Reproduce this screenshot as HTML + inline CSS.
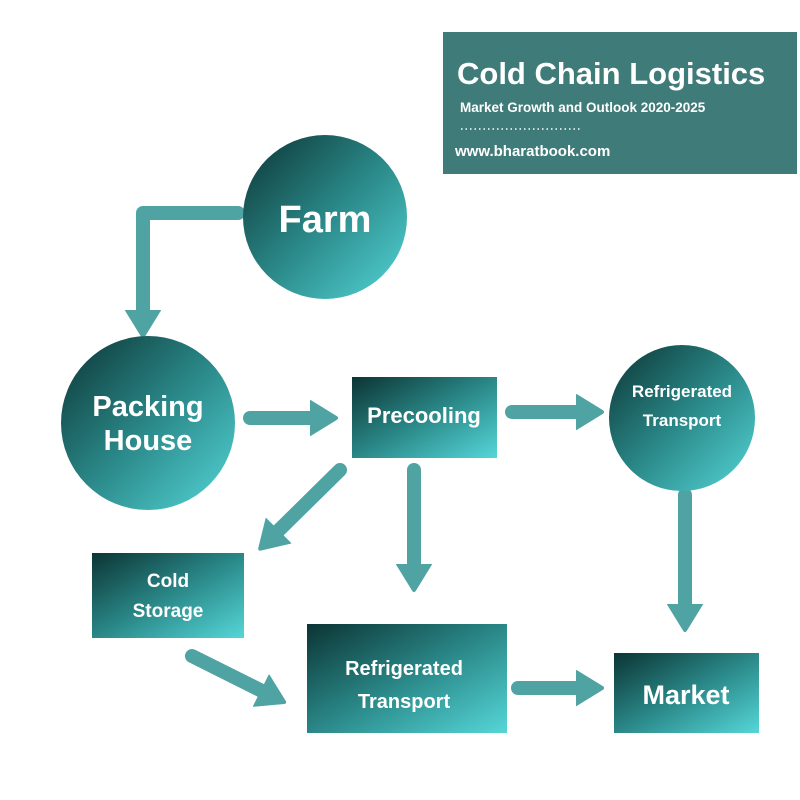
<!DOCTYPE html>
<html><head><meta charset="utf-8"><style>
html,body{margin:0;padding:0;background:#fff}
svg{display:block}
text{font-family:"Liberation Sans",sans-serif;font-weight:bold;fill:#fff}
</style></head><body>
<svg width="800" height="800" viewBox="0 0 800 800" xmlns="http://www.w3.org/2000/svg">
<defs>
<linearGradient id="g" x1="0" y1="0" x2="1" y2="1">
<stop offset="0" stop-color="#0c3434"/><stop offset="0.5" stop-color="#2a8787"/><stop offset="1" stop-color="#55d6d8"/>
</linearGradient>
<marker id="ah" markerUnits="userSpaceOnUse" markerWidth="40" markerHeight="40" refX="8" refY="20" orient="auto">
<path d="M0,4 L26,20 L0,36 Z" fill="#4fa3a3" stroke="#4fa3a3" stroke-width="4" stroke-linejoin="round"/>
</marker>
</defs>
<rect x="443" y="32" width="354" height="142" fill="#3f7b78"/>
<text x="457" y="84" font-size="31">Cold Chain Logistics</text>
<text x="460" y="112" font-size="13.5">Market Growth and Outlook 2020-2025</text>
<line x1="461" y1="129" x2="582" y2="129" stroke="#fff" stroke-width="1.5" stroke-dasharray="1.5 3"/>
<text x="455" y="156" font-size="15">www.bharatbook.com</text>

<g stroke="#4fa3a3" stroke-width="14" stroke-linecap="round" stroke-linejoin="round" fill="none">
<path d="M238,213 H143 V318" marker-end="url(#ah)"/>
<path d="M250,418 H318" marker-end="url(#ah)"/>
<path d="M512,412 H584" marker-end="url(#ah)"/>
<path d="M340,470 L273,536" marker-end="url(#ah)"/>
<path d="M414,470 V572" marker-end="url(#ah)"/>
<path d="M685,495 V612" marker-end="url(#ah)"/>
<path d="M192,656 L268,694" marker-end="url(#ah)"/>
<path d="M518,688 H584" marker-end="url(#ah)"/>
</g>

<circle cx="325" cy="217" r="82" fill="url(#g)"/>
<text x="325" y="232" font-size="38" text-anchor="middle">Farm</text>
<circle cx="148" cy="423" r="87" fill="url(#g)"/>
<text x="148" y="416" font-size="29" text-anchor="middle">Packing</text>
<text x="148" y="450" font-size="29" text-anchor="middle">House</text>
<rect x="352" y="377" width="145" height="81" fill="url(#g)"/>
<text x="424" y="423" font-size="22" text-anchor="middle">Precooling</text>
<circle cx="682" cy="418" r="73" fill="url(#g)"/>
<text x="682" y="397" font-size="17" text-anchor="middle">Refrigerated</text>
<text x="682" y="426" font-size="17" text-anchor="middle">Transport</text>
<rect x="92" y="553" width="152" height="85" fill="url(#g)"/>
<text x="168" y="587" font-size="19" text-anchor="middle">Cold</text>
<text x="168" y="617" font-size="19" text-anchor="middle">Storage</text>
<rect x="307" y="624" width="200" height="109" fill="url(#g)"/>
<text x="404" y="675" font-size="20" text-anchor="middle">Refrigerated</text>
<text x="404" y="708" font-size="20" text-anchor="middle">Transport</text>
<rect x="614" y="653" width="145" height="80" fill="url(#g)"/>
<text x="686" y="704" font-size="27" text-anchor="middle">Market</text>
</svg>
</body></html>
